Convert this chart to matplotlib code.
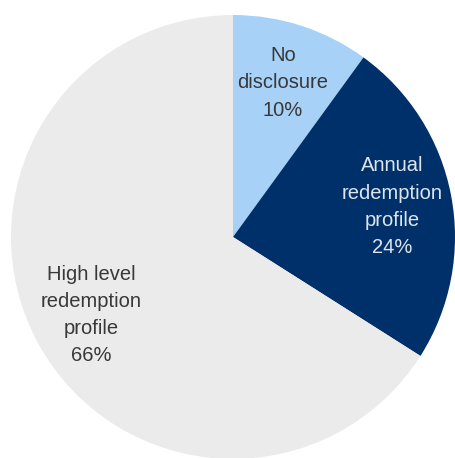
import matplotlib
matplotlib.use("Agg")
import matplotlib.pyplot as plt

# Share of disclosures by redemption-profile detail
categories = ["No\ndisclosure", "Annual\nredemption\nprofile", "High level\nredemption\nprofile"]
shares = [10, 24, 66]
colors = ["#a8d1f7", "#00306a", "#ebebeb"]
text_colors = ["#383838", "#dfe5ec", "#383838"]

plt.rcParams["font.family"] = ["Liberation Sans", "DejaVu Sans"]

fig = plt.figure(figsize=(4.55, 4.58), dpi=100)
ax = fig.add_axes([11 / 455, -1 / 458, 444 / 455, 444 / 458])

labels_iter = iter(categories)


def fmt(pct):
    return f"{next(labels_iter)}\n{pct:.0f}%"


wedges, _, autotexts = ax.pie(
    shares,
    colors=colors,
    startangle=90,
    counterclock=False,
    autopct=fmt,
    pctdistance=0.73,
    radius=1.0,
    wedgeprops=dict(linewidth=0),
    textprops=dict(fontsize=14.5, linespacing=1.55),
)
for t, c in zip(autotexts, text_colors):
    t.set_color(c)
    t.set_ha("center")
    t.set_va("center")

ax.set_xlim(-1, 1)
ax.set_ylim(-1, 1)
ax.axis("off")

fig.savefig("out.png", dpi=100, facecolor="white")
